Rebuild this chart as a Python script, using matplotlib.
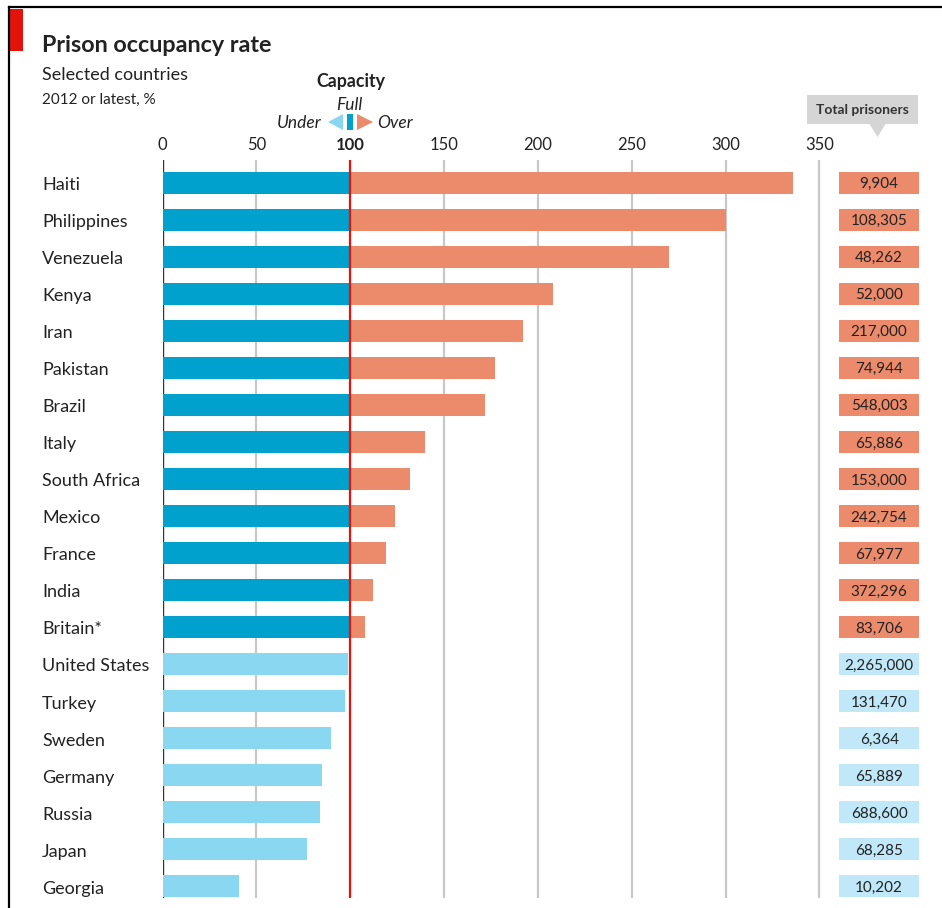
import matplotlib
matplotlib.use("Agg")
import matplotlib.pyplot as plt
from matplotlib.patches import Polygon, Rectangle
from matplotlib.lines import Line2D
import matplotlib.transforms as mtransforms

# dati
countries = ["Haiti", "Philippines", "Venezuela", "Kenya", "Iran", "Pakistan",
             "Brazil", "Italy", "South Africa", "Mexico", "France", "India",
             "Britain*", "United States", "Turkey", "Sweden", "Germany",
             "Russia", "Japan", "Georgia"]
occupancy = [336, 300, 270, 208, 192, 177, 172, 140, 132, 124, 119, 112,
             108, 99, 97, 90, 85, 84, 77, 41]
total_prisoners = [9904, 108305, 48262, 52000, 217000, 74944, 548003, 65886,
                   153000, 242754, 67977, 372296, 83706, 2265000, 131470,
                   6364, 65889, 688600, 68285, 10202]
ticks = [0, 50, 100, 150, 200, 250, 300, 350]

DARK_BLUE = "#00a1cd"
LIGHT_BLUE = "#8ad7f1"
ORANGE = "#ec8b6b"
BOX_BLUE = "#c0e8f8"
RED = "#e3120b"
TXT = "#222222"

plt.rcParams['font.family'] = ['Lato', 'DejaVu Sans']

W, H = 942, 908
fig = plt.figure(figsize=(W / 100, H / 100), dpi=100)


def px(x, y):
    return x / W, 1 - y / H


ax = fig.add_axes([162.5 / W, 1 - 898 / H, (920.8 - 162.5) / W, (898 - 160) / H])
n = len(countries)
ax.set_xlim(0, 404)
ax.set_ylim(n - 1 + 0.32, -0.62)

# gridlines
for t in ticks:
    if t == 0:
        ax.axvline(t, color="#333333", lw=1.0, zorder=1)
    elif t == 100:
        ax.axvline(t, color=RED, lw=1.6, zorder=5)
    else:
        ax.axvline(t, color="#c8c8c8", lw=1.6, zorder=1)

bh = 0.61
for i, v in enumerate(occupancy):
    if v > 100:
        ax.barh(i, 100, height=bh, color=DARK_BLUE, zorder=3)
        ax.barh(i, v - 100, left=100, height=bh, color=ORANGE, zorder=3)
    else:
        ax.barh(i, v, height=bh, color=LIGHT_BLUE, zorder=3)
    # riquadro totale detenuti
    box_col = ORANGE if v > 100 else BOX_BLUE
    ax.barh(i, 42.6, left=360.5, height=bh, color=box_col, zorder=3)
    ax.text(381.8, i + 0.145, f"{total_prisoners[i]:,}", ha="center", va="baseline",
            fontsize=11, color=TXT, zorder=4)

# etichette paesi
trans = mtransforms.blended_transform_factory(fig.transFigure, ax.transData)
for i, c in enumerate(countries):
    ax.text(42 / W, i + 0.2, c, transform=trans, ha="left", va="baseline",
            fontsize=13, color=TXT)

ax.xaxis.tick_top()
ax.set_xticks(ticks)
ax.set_xticklabels([str(t) for t in ticks], fontsize=12, color=TXT)
for lab in ax.get_xticklabels():
    if lab.get_text() == "100":
        lab.set_fontweight("bold")
ax.tick_params(axis="x", length=0, pad=5)
ax.set_yticks([])
for s in ax.spines.values():
    s.set_visible(False)

# cornice e titolo
fig.add_artist(Line2D([9 / W, 1], [1 - 7 / H, 1 - 7 / H], color="black", lw=1.6))
fig.add_artist(Line2D([9 / W, 9 / W], [0, 1 - 7 / H], color="black", lw=1.6))
fig.add_artist(Rectangle(px(9, 51), 14 / W, 42 / H, color=RED, lw=0))
fig.text(*px(42, 52), "Prison occupancy rate", fontsize=16.8, fontweight="bold",
         color=TXT, va="baseline")
fig.text(*px(42, 80), "Selected countries", fontsize=13, color=TXT, va="baseline")
fig.text(*px(42, 104), "2012 or latest, %", fontsize=11, color=TXT, va="baseline")

# legenda capacita'
fig.text(*px(351, 87), "Capacity", fontsize=12.8, fontweight="bold", color=TXT,
         ha="center", va="baseline")
fig.text(*px(349, 110), "Full", fontsize=12.5, style="italic", color=TXT,
         ha="center", va="baseline")
fig.text(*px(322, 128), "Under", fontsize=12.5, style="italic", color=TXT,
         ha="right", va="baseline")
fig.text(*px(377, 128), "Over", fontsize=12.5, style="italic", color=TXT,
         ha="left", va="baseline")
fig.add_artist(Polygon([px(343, 114), px(343, 130), px(328, 122)], closed=True,
                       color=LIGHT_BLUE, lw=0))
fig.add_artist(Rectangle(px(347, 130), 6 / W, 16 / H, color=DARK_BLUE, lw=0))
fig.add_artist(Polygon([px(357, 114), px(357, 130), px(373, 122)], closed=True,
                       color=ORANGE, lw=0))

# intestazione totale detenuti
fig.add_artist(Rectangle(px(806.5, 124), 111.5 / W, 29 / H, color="#d5d5d5", lw=0))
fig.add_artist(Polygon([px(869.5, 124), px(885.5, 124), px(877.5, 137)], closed=True,
                       color="#d5d5d5", lw=0))
fig.text(*px(862, 109.5), "Total prisoners", fontsize=10, fontweight="bold",
         color="#333333", ha="center", va="center")

fig.savefig("out.png", dpi=100)
